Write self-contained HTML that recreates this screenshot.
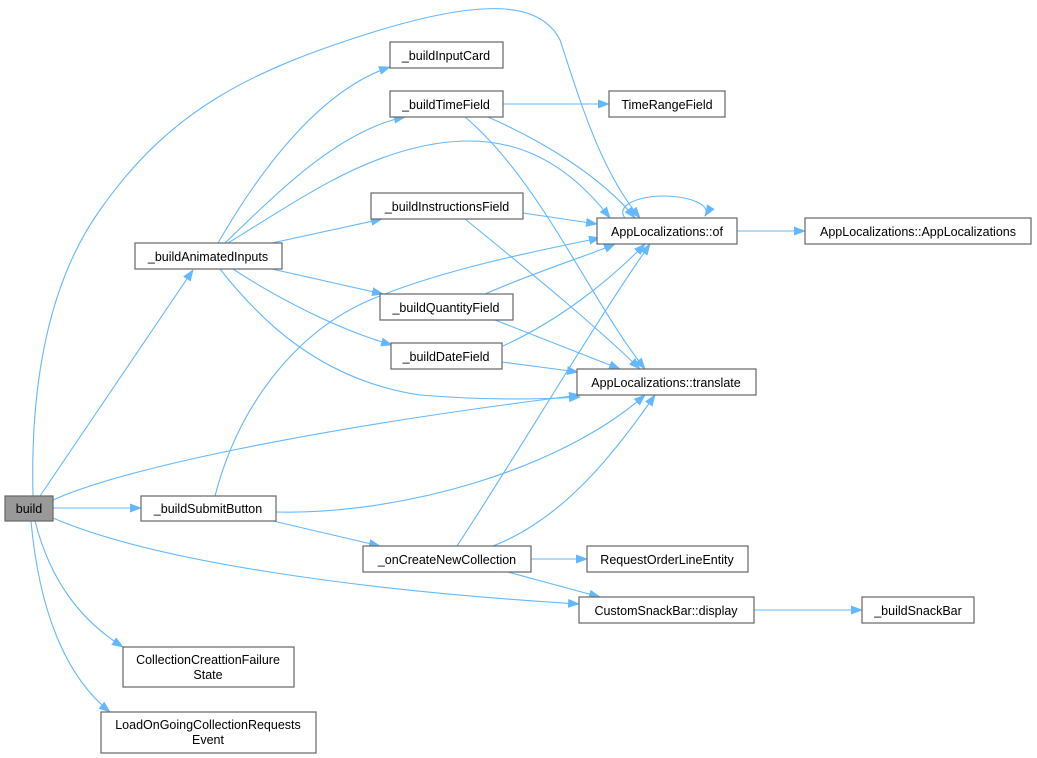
<!DOCTYPE html>
<html><head><meta charset="utf-8"><style>
html,body{margin:0;padding:0;background:#fff;width:1037px;height:758px;overflow:hidden}
svg text{font-family:"Liberation Sans",Arial,sans-serif;font-size:12.5px;fill:#000;text-anchor:middle}
.e{fill:none;stroke:#63b8ff;stroke-width:1.1}
.n{fill:#fff;stroke:#666;stroke-width:1.2}
</style></head><body>
<svg width="1037" height="758" viewBox="0 0 1037 758" xmlns="http://www.w3.org/2000/svg">
<defs><marker id="a" markerWidth="12" markerHeight="9" refX="11" refY="4.5" orient="auto" markerUnits="userSpaceOnUse"><path d="M0,0 L12,4.5 L0,9 z" fill="#63b8ff"/></marker></defs>
<g class="e" marker-end="url(#a)">
<path d="M40,496 L193,270"/>
<path d="M33,496 C30,380 50,280 100,210 C170,110 250,70 380,30 C480,0 540,0 560,40 C580,100 600,170 640,218"/>
<path d="M53,500 C120,470 300,430 580,395"/>
<path d="M53,508 L141,508"/>
<path d="M53,518 C150,560 350,590 579,604"/>
<path d="M35,521 C50,580 80,620 123,647"/>
<path d="M31,521 C40,620 70,680 110,712"/>
<path d="M218,243 C260,170 320,90 390,67"/>
<path d="M225,243 C280,190 340,130 405,117"/>
<path d="M228,243 C290,205 340,170 400,152 C480,128 550,140 610,218"/>
<path d="M272,243 L382,219"/>
<path d="M272,269 L383,294"/>
<path d="M233,269 C280,300 340,330 392,345"/>
<path d="M220,269 C260,320 320,380 420,395 C480,400 530,400 580,397"/>
<path d="M503,104 L609,104"/>
<path d="M488,117 C540,140 600,175 635,218"/>
<path d="M465,117 C540,180 590,300 645,369"/>
<path d="M523,213 L597,224"/>
<path d="M465,219 C540,280 600,330 640,369"/>
<path d="M485,294 C540,270 590,255 615,244"/>
<path d="M495,320 L620,369"/>
<path d="M503,346 C560,320 610,280 645,244"/>
<path d="M502,362 L578,372"/>
<path d="M215,496 C240,400 300,330 370,300 C440,270 540,250 600,238"/>
<path d="M276,512 C400,515 560,470 645,395"/>
<path d="M273,521 L380,546"/>
<path d="M457,546 C520,450 590,330 650,244"/>
<path d="M493,546 C560,520 610,460 655,395"/>
<path d="M531,559 L587,559"/>
<path d="M508,572 L600,597"/>
<path d="M754,610 L862,610"/>
<path d="M737,231 L805,231"/>
<path d="M625,218 C615,205 640,196 662,196 C690,196 712,205 705,216"/>
</g>
<rect class="n" x="5" y="496" width="48" height="25" style="fill:#999"/><text x="29" y="513">build</text>
<rect class="n" x="135" y="243" width="147" height="26"/><text x="208" y="261">_buildAnimatedInputs</text>
<rect class="n" x="390" y="42" width="113" height="26"/><text x="446" y="60">_buildInputCard</text>
<rect class="n" x="390" y="91" width="113" height="26"/><text x="446" y="109">_buildTimeField</text>
<rect class="n" x="371" y="193" width="152" height="26"/><text x="447" y="211">_buildInstructionsField</text>
<rect class="n" x="380" y="294" width="133" height="26"/><text x="446" y="312">_buildQuantityField</text>
<rect class="n" x="391" y="343" width="111" height="26"/><text x="446" y="361">_buildDateField</text>
<rect class="n" x="141" y="496" width="135" height="25"/><text x="208" y="513">_buildSubmitButton</text>
<rect class="n" x="363" y="546" width="168" height="26"/><text x="447" y="564">_onCreateNewCollection</text>
<rect class="n" x="123" y="647" width="171" height="40"/><text x="208" y="664">CollectionCreattionFailure</text><text x="208" y="679">State</text>
<rect class="n" x="101" y="712" width="215" height="41"/><text x="208" y="729">LoadOnGoingCollectionRequests</text><text x="208" y="744">Event</text>
<rect class="n" x="609" y="91" width="116" height="26"/><text x="667" y="109">TimeRangeField</text>
<rect class="n" x="597" y="218" width="140" height="26"/><text x="667" y="236">AppLocalizations::of</text>
<rect class="n" x="805" y="218" width="226" height="26"/><text x="918" y="236">AppLocalizations::AppLocalizations</text>
<rect class="n" x="577" y="369" width="179" height="26"/><text x="666" y="387">AppLocalizations::translate</text>
<rect class="n" x="587" y="546" width="161" height="26"/><text x="667" y="564">RequestOrderLineEntity</text>
<rect class="n" x="579" y="597" width="175" height="26"/><text x="666" y="615">CustomSnackBar::display</text>
<rect class="n" x="862" y="597" width="112" height="26"/><text x="918" y="615">_buildSnackBar</text>
</svg>
</body></html>
